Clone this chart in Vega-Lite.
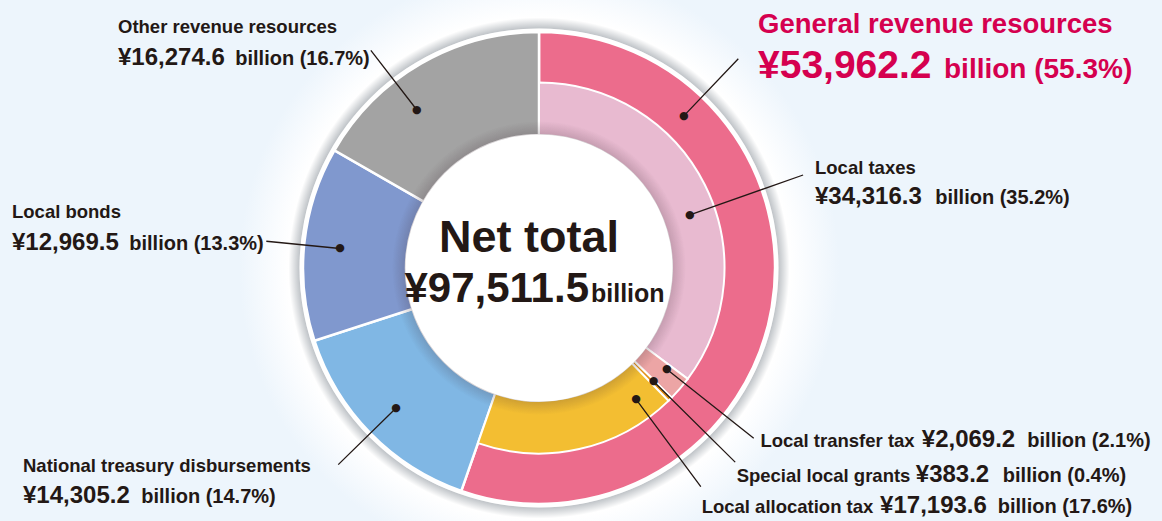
{
  "$schema": "https://vega.github.io/schema/vega-lite/v6.json",
  "width": 1078,
  "height": 500,
  "autosize": {"type": "none"},
  "padding": {"left": 0, "top": 18, "right": 84, "bottom": 3},
  "background": "#edf5fc",
  "config": {
    "view": {"stroke": null},
    "locale": {"number": {"decimal": ".", "thousands": ",", "grouping": [3], "currency": ["¥", ""]}},
    "text": {"font": "Liberation Sans, Arial, sans-serif", "fontWeight": "bold", "color": "#231815", "baseline": "alphabetic", "align": "left", "radius": 0}
  },
  "datasets": {
    "parts": [
      {"ring": "outer", "k": 1, "name": "General revenue resources", "value": 53962.2, "tail": "billion (55.3%)"},
      {"ring": "outer", "k": 2, "name": "National treasury disbursements", "value": 14305.2, "tail": "billion (14.7%)"},
      {"ring": "outer", "k": 3, "name": "Local bonds", "value": 12969.5, "tail": "billion (13.3%)"},
      {"ring": "outer", "k": 4, "name": "Other revenue resources", "value": 16274.6, "tail": "billion (16.7%)"},
      {"ring": "inner", "k": 1, "name": "Local taxes", "value": 34316.3, "tail": "billion (35.2%)"},
      {"ring": "inner", "k": 2, "name": "Local transfer tax", "value": 2069.2, "tail": "billion (2.1%)"},
      {"ring": "inner", "k": 3, "name": "Special local grants", "value": 383.2, "tail": "billion (0.4%)"},
      {"ring": "inner", "k": 4, "name": "Local allocation tax", "value": 17193.6, "tail": "billion (17.6%)"}
    ]
  },
  "data": {"name": "parts"},
  "layer": [
    {
      "transform": [{"filter": "datum.ring === 'outer'"}],
      "mark": {"type": "arc", "radius": 300, "radius2": 0, "fill": {"gradient": "radial", "x1": 0.5, "y1": 0.5, "r1": 0, "x2": 0.5, "y2": 0.5, "r2": 0.5, "stops": [{"offset": 0, "color": "#ffffff"}, {"offset": 0.79, "color": "#ffffff"}, {"offset": 0.8, "color": "#c2c6ca"}, {"offset": 0.835, "color": "#ffffff"}, {"offset": 0.9, "color": "#f8fbfe"}, {"offset": 1, "color": "#edf5fc"}]}},
      "encoding": {"theta": {"aggregate": "sum", "field": "value", "type": "quantitative", "scale": {"domain": [0, 97511.5]}}}
    },
    {
      "transform": [{"filter": "datum.ring === 'outer'"}],
      "mark": {"type": "arc", "radius": 239.5, "radius2": 0, "fill": "#ffffff"},
      "encoding": {"theta": {"aggregate": "sum", "field": "value", "type": "quantitative", "scale": {"domain": [0, 97511.5]}}}
    },
    {
      "transform": [{"filter": "datum.ring === 'outer'"}],
      "mark": {"type": "arc", "radius": 236, "radius2": 133, "stroke": "#ffffff", "strokeWidth": 2.5},
      "encoding": {
        "theta": {"field": "value", "type": "quantitative", "stack": true, "scale": {"domain": [0, 97511.5]}},
        "order": {"field": "k", "type": "quantitative"},
        "color": {"field": "name", "type": "nominal", "legend": null, "scale": {"domain": ["General revenue resources", "National treasury disbursements", "Local bonds", "Other revenue resources", "Local taxes", "Local transfer tax", "Special local grants", "Local allocation tax"], "range": ["#ec6c8c", "#80b7e4", "#8098ce", "#a3a3a3", "#e8bad0", "#eca5a5", "#e0901a", "#f3be32"]}}
      }
    },
    {
      "transform": [{"filter": "datum.ring === 'inner'"}],
      "mark": {"type": "arc", "radius": 185.5, "radius2": 133, "stroke": "#ffffff", "strokeWidth": 2},
      "encoding": {
        "theta": {"field": "value", "type": "quantitative", "stack": true, "scale": {"domain": [0, 97511.5]}},
        "order": {"field": "k", "type": "quantitative"},
        "color": {"field": "name", "type": "nominal", "legend": null}
      }
    },
    {
      "transform": [{"filter": "datum.ring === 'outer'"}],
      "mark": {"type": "arc", "radius": 147, "radius2": 133, "fill": {"gradient": "radial", "x1": 0.5, "y1": 0.5, "r1": 0, "x2": 0.5, "y2": 0.5, "r2": 0.5, "stops": [{"offset": 0, "color": "rgba(60,40,50,0)"}, {"offset": 0.9, "color": "rgba(60,40,50,0.22)"}, {"offset": 1, "color": "rgba(60,40,50,0)"}]}},
      "encoding": {"theta": {"aggregate": "sum", "field": "value", "type": "quantitative", "scale": {"domain": [0, 97511.5]}}}
    },
    {
      "transform": [{"filter": "datum.ring === 'outer'"}],
      "mark": {"type": "arc", "radius": 133.5, "radius2": 0, "fill": "#ffffff"},
      "encoding": {"theta": {"aggregate": "sum", "field": "value", "type": "quantitative", "scale": {"domain": [0, 97511.5]}}}
    },

    {"transform": [{"filter": "datum.name === 'General revenue resources'"}], "mark": {"type": "arc", "radius": 289, "radius2": 210, "filled": false, "color": "#231815", "strokeWidth": 1.3}, "encoding": {"theta": {"datum": 11810, "scale": {"domain": [0, 97511.5]}}, "theta2": {"datum": 11810}}},
    {"transform": [{"filter": "datum.name === 'Local taxes'"}], "mark": {"type": "arc", "radius": 280, "radius2": 160, "filled": false, "color": "#231815", "strokeWidth": 1.3}, "encoding": {"theta": {"datum": 19124, "scale": {"domain": [0, 97511.5]}}, "theta2": {"datum": 19124}}},
    {"transform": [{"filter": "datum.name === 'Other revenue resources'"}], "mark": {"type": "arc", "radius": 275, "radius2": 200, "filled": false, "color": "#231815", "strokeWidth": 1.3}, "encoding": {"theta": {"datum": 87301, "scale": {"domain": [0, 97511.5]}}, "theta2": {"datum": 87301}}},
    {"transform": [{"filter": "datum.name === 'Local bonds'"}], "mark": {"type": "arc", "radius": 274, "radius2": 200, "filled": false, "color": "#231815", "strokeWidth": 1.3}, "encoding": {"theta": {"datum": 74650, "scale": {"domain": [0, 97511.5]}}, "theta2": {"datum": 74650}}},
    {"transform": [{"filter": "datum.name === 'National treasury disbursements'"}], "mark": {"type": "arc", "radius": 281, "radius2": 200, "filled": false, "color": "#231815", "strokeWidth": 1.3}, "encoding": {"theta": {"datum": 61107, "scale": {"domain": [0, 97511.5]}}, "theta2": {"datum": 61107}}},
    {"transform": [{"filter": "datum.name === 'Local transfer tax'"}], "mark": {"type": "arc", "radius": 274, "radius2": 163, "filled": false, "color": "#231815", "strokeWidth": 1.3}, "encoding": {"theta": {"datum": 34779, "scale": {"domain": [0, 97511.5]}}, "theta2": {"datum": 34779}}},
    {"transform": [{"filter": "datum.name === 'Special local grants'"}], "mark": {"type": "arc", "radius": 276, "radius2": 161, "filled": false, "color": "#231815", "strokeWidth": 1.3}, "encoding": {"theta": {"datum": 36486, "scale": {"domain": [0, 97511.5]}}, "theta2": {"datum": 36486}}},
    {"transform": [{"filter": "datum.name === 'Local allocation tax'"}], "mark": {"type": "arc", "radius": 272, "radius2": 163, "filled": false, "color": "#231815", "strokeWidth": 1.3}, "encoding": {"theta": {"datum": 38870, "scale": {"domain": [0, 97511.5]}}, "theta2": {"datum": 38870}}},

    {"transform": [{"filter": "datum.name === 'General revenue resources'"}], "mark": {"type": "text", "text": "●", "font": "DejaVu Sans", "fontSize": 11, "align": "center", "baseline": "middle", "radius": 210}, "encoding": {"theta": {"datum": 11810, "scale": {"domain": [0, 97511.5]}}}},
    {"transform": [{"filter": "datum.name === 'Local taxes'"}], "mark": {"type": "text", "text": "●", "font": "DejaVu Sans", "fontSize": 11, "align": "center", "baseline": "middle", "radius": 160}, "encoding": {"theta": {"datum": 19124, "scale": {"domain": [0, 97511.5]}}}},
    {"transform": [{"filter": "datum.name === 'Other revenue resources'"}], "mark": {"type": "text", "text": "●", "font": "DejaVu Sans", "fontSize": 11, "align": "center", "baseline": "middle", "radius": 200}, "encoding": {"theta": {"datum": 87301, "scale": {"domain": [0, 97511.5]}}}},
    {"transform": [{"filter": "datum.name === 'Local bonds'"}], "mark": {"type": "text", "text": "●", "font": "DejaVu Sans", "fontSize": 11, "align": "center", "baseline": "middle", "radius": 200}, "encoding": {"theta": {"datum": 74650, "scale": {"domain": [0, 97511.5]}}}},
    {"transform": [{"filter": "datum.name === 'National treasury disbursements'"}], "mark": {"type": "text", "text": "●", "font": "DejaVu Sans", "fontSize": 11, "align": "center", "baseline": "middle", "radius": 200}, "encoding": {"theta": {"datum": 61107, "scale": {"domain": [0, 97511.5]}}}},
    {"transform": [{"filter": "datum.name === 'Local transfer tax'"}], "mark": {"type": "text", "text": "●", "font": "DejaVu Sans", "fontSize": 11, "align": "center", "baseline": "middle", "radius": 163}, "encoding": {"theta": {"datum": 34779, "scale": {"domain": [0, 97511.5]}}}},
    {"transform": [{"filter": "datum.name === 'Special local grants'"}], "mark": {"type": "text", "text": "●", "font": "DejaVu Sans", "fontSize": 11, "align": "center", "baseline": "middle", "radius": 161}, "encoding": {"theta": {"datum": 36486, "scale": {"domain": [0, 97511.5]}}}},
    {"transform": [{"filter": "datum.name === 'Local allocation tax'"}], "mark": {"type": "text", "text": "●", "font": "DejaVu Sans", "fontSize": 11, "align": "center", "baseline": "middle", "radius": 163}, "encoding": {"theta": {"datum": 38870, "scale": {"domain": [0, 97511.5]}}}},

    {"transform": [{"filter": "datum.name === 'General revenue resources'"}], "mark": {"type": "text", "dx": 219, "dy": -235, "fontSize": 27.5, "color": "#d5004f"}, "encoding": {"text": {"field": "name"}, "theta": {"datum": 0, "scale": {"domain": [0, 97511.5]}}}},
    {"transform": [{"filter": "datum.name === 'General revenue resources'"}], "mark": {"type": "text", "dx": 219, "dy": -190, "fontSize": 39, "color": "#d5004f"}, "encoding": {"text": {"field": "value", "format": "$,.1f"}, "theta": {"datum": 0, "scale": {"domain": [0, 97511.5]}}}},
    {"transform": [{"filter": "datum.name === 'General revenue resources'"}], "mark": {"type": "text", "dx": 405, "dy": -190, "fontSize": 28, "color": "#d5004f"}, "encoding": {"text": {"field": "tail"}, "theta": {"datum": 0, "scale": {"domain": [0, 97511.5]}}}},

    {"transform": [{"filter": "datum.name === 'Local taxes'"}], "mark": {"type": "text", "dx": 276, "dy": -94, "fontSize": 18.5}, "encoding": {"text": {"field": "name"}, "theta": {"datum": 0, "scale": {"domain": [0, 97511.5]}}}},
    {"transform": [{"filter": "datum.name === 'Local taxes'"}], "mark": {"type": "text", "dx": 276, "dy": -64, "fontSize": 24}, "encoding": {"text": {"field": "value", "format": "$,.1f"}, "theta": {"datum": 0, "scale": {"domain": [0, 97511.5]}}}},
    {"transform": [{"filter": "datum.name === 'Local taxes'"}], "mark": {"type": "text", "align": "center", "dx": 463.5, "dy": -64, "fontSize": 20}, "encoding": {"text": {"field": "tail"}, "theta": {"datum": 0, "scale": {"domain": [0, 97511.5]}}}},

    {"transform": [{"filter": "datum.name === 'Other revenue resources'"}], "mark": {"type": "text", "dx": -421, "dy": -235, "fontSize": 18.5}, "encoding": {"text": {"field": "name"}, "theta": {"datum": 0, "scale": {"domain": [0, 97511.5]}}}},
    {"transform": [{"filter": "datum.name === 'Other revenue resources'"}], "mark": {"type": "text", "dx": -421, "dy": -203, "fontSize": 24}, "encoding": {"text": {"field": "value", "format": "$,.1f"}, "theta": {"datum": 0, "scale": {"domain": [0, 97511.5]}}}},
    {"transform": [{"filter": "datum.name === 'Other revenue resources'"}], "mark": {"type": "text", "align": "center", "dx": -236.5, "dy": -203, "fontSize": 20}, "encoding": {"text": {"field": "tail"}, "theta": {"datum": 0, "scale": {"domain": [0, 97511.5]}}}},

    {"transform": [{"filter": "datum.name === 'Local bonds'"}], "mark": {"type": "text", "dx": -527, "dy": -50, "fontSize": 18.5}, "encoding": {"text": {"field": "name"}, "theta": {"datum": 0, "scale": {"domain": [0, 97511.5]}}}},
    {"transform": [{"filter": "datum.name === 'Local bonds'"}], "mark": {"type": "text", "dx": -527, "dy": -18, "fontSize": 24}, "encoding": {"text": {"field": "value", "format": "$,.1f"}, "theta": {"datum": 0, "scale": {"domain": [0, 97511.5]}}}},
    {"transform": [{"filter": "datum.name === 'Local bonds'"}], "mark": {"type": "text", "align": "center", "dx": -342.5, "dy": -18, "fontSize": 20}, "encoding": {"text": {"field": "tail"}, "theta": {"datum": 0, "scale": {"domain": [0, 97511.5]}}}},

    {"transform": [{"filter": "datum.name === 'National treasury disbursements'"}], "mark": {"type": "text", "dx": -516, "dy": 204, "fontSize": 18.5}, "encoding": {"text": {"field": "name"}, "theta": {"datum": 0, "scale": {"domain": [0, 97511.5]}}}},
    {"transform": [{"filter": "datum.name === 'National treasury disbursements'"}], "mark": {"type": "text", "dx": -516, "dy": 235, "fontSize": 24}, "encoding": {"text": {"field": "value", "format": "$,.1f"}, "theta": {"datum": 0, "scale": {"domain": [0, 97511.5]}}}},
    {"transform": [{"filter": "datum.name === 'National treasury disbursements'"}], "mark": {"type": "text", "align": "center", "dx": -330.5, "dy": 235, "fontSize": 20}, "encoding": {"text": {"field": "tail"}, "theta": {"datum": 0, "scale": {"domain": [0, 97511.5]}}}},

    {"transform": [{"filter": "datum.name === 'Local transfer tax'"}], "mark": {"type": "text", "align": "center", "dx": 298.5, "dy": 179, "fontSize": 18.5}, "encoding": {"text": {"field": "name"}, "theta": {"datum": 0, "scale": {"domain": [0, 97511.5]}}}},
    {"transform": [{"filter": "datum.name === 'Local transfer tax'"}], "mark": {"type": "text", "align": "center", "dx": 429.5, "dy": 179, "fontSize": 24}, "encoding": {"text": {"field": "value", "format": "$,.1f"}, "theta": {"datum": 0, "scale": {"domain": [0, 97511.5]}}}},
    {"transform": [{"filter": "datum.name === 'Local transfer tax'"}], "mark": {"type": "text", "align": "center", "dx": 550, "dy": 179, "fontSize": 20}, "encoding": {"text": {"field": "tail"}, "theta": {"datum": 0, "scale": {"domain": [0, 97511.5]}}}},

    {"transform": [{"filter": "datum.name === 'Special local grants'"}], "mark": {"type": "text", "align": "center", "dx": 284.5, "dy": 214, "fontSize": 18.5}, "encoding": {"text": {"field": "name"}, "theta": {"datum": 0, "scale": {"domain": [0, 97511.5]}}}},
    {"transform": [{"filter": "datum.name === 'Special local grants'"}], "mark": {"type": "text", "align": "center", "dx": 413.5, "dy": 214, "fontSize": 24}, "encoding": {"text": {"field": "value", "format": "$,.1f"}, "theta": {"datum": 0, "scale": {"domain": [0, 97511.5]}}}},
    {"transform": [{"filter": "datum.name === 'Special local grants'"}], "mark": {"type": "text", "align": "center", "dx": 525.5, "dy": 214, "fontSize": 20}, "encoding": {"text": {"field": "tail"}, "theta": {"datum": 0, "scale": {"domain": [0, 97511.5]}}}},

    {"transform": [{"filter": "datum.name === 'Local allocation tax'"}], "mark": {"type": "text", "align": "center", "dx": 248.5, "dy": 245, "fontSize": 18.5}, "encoding": {"text": {"field": "name"}, "theta": {"datum": 0, "scale": {"domain": [0, 97511.5]}}}},
    {"transform": [{"filter": "datum.name === 'Local allocation tax'"}], "mark": {"type": "text", "align": "center", "dx": 394.5, "dy": 245, "fontSize": 24}, "encoding": {"text": {"field": "value", "format": "$,.1f"}, "theta": {"datum": 0, "scale": {"domain": [0, 97511.5]}}}},
    {"transform": [{"filter": "datum.name === 'Local allocation tax'"}], "mark": {"type": "text", "align": "center", "dx": 526, "dy": 245, "fontSize": 20}, "encoding": {"text": {"field": "tail"}, "theta": {"datum": 0, "scale": {"domain": [0, 97511.5]}}}},

    {"transform": [{"filter": "datum.name === 'General revenue resources'"}], "mark": {"type": "text", "align": "center", "dx": -10, "dy": -16, "fontSize": 45, "text": "Net total"}, "encoding": {"theta": {"datum": 0, "scale": {"domain": [0, 97511.5]}}}},
    {"transform": [{"filter": "datum.ring === 'outer'"}], "mark": {"type": "text", "align": "right", "dx": 50, "dy": 34, "fontSize": 42}, "encoding": {"text": {"aggregate": "sum", "field": "value", "type": "quantitative", "format": "$,.1f"}, "theta": {"datum": 0, "scale": {"domain": [0, 97511.5]}}}},
    {"transform": [{"filter": "datum.name === 'General revenue resources'"}], "mark": {"type": "text", "dx": 52, "dy": 34, "fontSize": 25, "text": "billion"}, "encoding": {"theta": {"datum": 0, "scale": {"domain": [0, 97511.5]}}}}
  ]
}
